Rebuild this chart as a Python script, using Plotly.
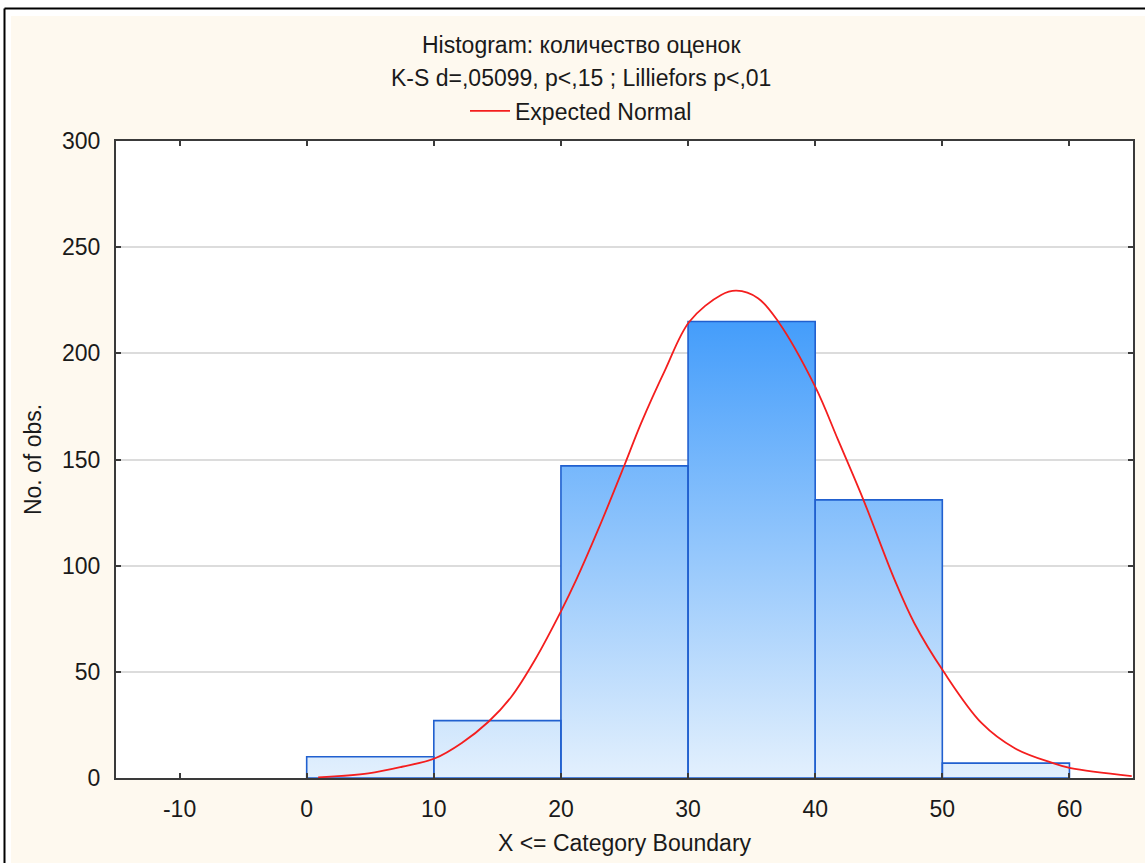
import plotly.graph_objects as go

# ---- data ----
bin_upper = [10, 20, 30, 40, 50, 60]          # category boundaries (X <= boundary)
bin_width = 10
counts = [10, 27, 147, 215, 131, 7]            # No. of obs.

normal_x = [0.9, 4.85, 7.5, 10.1, 12.2, 14.3, 16.1, 17.95, 20.05, 21.2, 23.0, 25.0,
            26.3, 28.2, 30.1, 32.6, 33.8, 35.5, 37.1, 40.0, 41.8, 43.8, 46.25, 47.8,
            50.1, 53.1, 55.7, 58.6, 60.1, 64.9]
normal_y = [0.3, 2.2, 5.3, 9.3, 16.5, 26.5, 38.3, 55.6, 79.1, 93.3, 118.0, 147.4,
            167.0, 192.2, 214.9, 227.5, 229.5, 226.0, 214.9, 184.3, 159.2, 130.9, 93.3, 72.9,
            50.1, 25.8, 14.0, 7.2, 4.6, 0.9]

x_ticks = [-10, 0, 10, 20, 30, 40, 50, 60]
x_tick_labels = ["-10", "0", "10", "20", "30", "40", "50", "60"]
y_ticks = [0, 50, 100, 150, 200, 250, 300]

title_line1 = "Histogram: количество оценок"
title_line2 = "K-S d=,05099, p<,15 ; Lilliefors p<,01"

# ---- layout constants (pixels) ----
W, H = 1145, 863
L, R, T, B = 116, 1133, 141, 778
PW, PH = R - L, B - T
FONT = "Arial, Liberation Sans, sans-serif"
FS = 23
CREAM = "#FEF9EF"


def fx(px):
    return (px - L) / PW


def fy(py):
    return (B - py) / PH


# build bar outlines (one polygon per bin, separated by gaps)
bx, by = [], []
for ub, c in zip(bin_upper, counts):
    lb = ub - bin_width
    bx += [lb, lb, ub, ub, lb, None]
    by += [0, c, c, 0, 0, None]

fig = go.Figure()
fig.add_trace(go.Scatter(
    x=bx, y=by, mode="lines", fill="toself",
    line=dict(color="#2160CF", width=1.6),
    fillgradient=dict(type="vertical",
                      colorscale=[[0, "#E3F0FD"], [1, "#449DFB"]],
                      start=0, stop=max(counts)),
    showlegend=False, hoverinfo="skip", name="Histogram",
))
fig.add_trace(go.Scatter(
    x=normal_x, y=normal_y, mode="lines", line_shape="spline",
    line=dict(color="#F41E1E", width=1.8), name="Expected Normal",
))

axis_common = dict(
    showline=True, linecolor="#3a3a3a", linewidth=2, mirror="ticks",
    ticks="inside", ticklen=5, tickwidth=1.5, tickcolor="#3a3a3a",
    zeroline=False, tickfont=dict(family=FONT, size=FS, color="#1a1a1a"),
)

fig.update_layout(
    width=W, height=H,
    margin=dict(l=L, r=W - R, t=T, b=H - B, autoexpand=False),
    paper_bgcolor=CREAM, plot_bgcolor="white",
    font=dict(family=FONT, size=FS, color="#1a1a1a"),
    xaxis=dict(range=[-15, 65], tickvals=x_ticks, ticktext=x_tick_labels, showgrid=False,
               title=dict(text="X <= Category Boundary", standoff=14,
                          font=dict(family=FONT, size=FS)),
               ticklabelstandoff=9, **axis_common),
    yaxis=dict(range=[0, 300], tickvals=y_ticks, showgrid=True,
               gridcolor="#dcdcdc", gridwidth=1.5,
               title=dict(text="No. of obs.", standoff=14,
                          font=dict(family=FONT, size=FS)),
               ticklabelstandoff=9, **axis_common),
    showlegend=True,
    legend=dict(x=fx(465), y=fy(111), xanchor="left", yanchor="middle",
                bgcolor="rgba(0,0,0,0)", borderwidth=0, itemwidth=40,
                font=dict(family=FONT, size=FS)),
    annotations=[
        dict(text=title_line1, xref="paper", yref="paper", x=fx(581), y=fy(45),
             xanchor="center", yanchor="middle", showarrow=False,
             font=dict(family=FONT, size=FS)),
        dict(text=title_line2, xref="paper", yref="paper", x=fx(581), y=fy(78),
             xanchor="center", yanchor="middle", showarrow=False,
             font=dict(family=FONT, size=FS)),
    ],
    shapes=[
        dict(type="rect", xref="paper", yref="paper", layer="above",
             x0=fx(0), x1=fx(11), y0=fy(H), y1=fy(0),
             fillcolor="white", line_width=0),
        dict(type="rect", xref="paper", yref="paper", layer="above",
             x0=fx(0), x1=fx(W), y0=fy(16), y1=fy(0),
             fillcolor="white", line_width=0),
        dict(type="line", xref="paper", yref="paper", layer="above",
             x0=fx(4.5), x1=fx(4.5), y0=fy(H), y1=fy(8.5),
             line=dict(color="black", width=2)),
        dict(type="line", xref="paper", yref="paper", layer="above",
             x0=fx(4.5), x1=fx(W), y0=fy(8.5), y1=fy(8.5),
             line=dict(color="black", width=2)),
    ],
)

fig.write_html("out.html", config={"displayModeBar": False},
               post_script="document.body.style.margin='0';document.body.style.overflow='hidden';")
